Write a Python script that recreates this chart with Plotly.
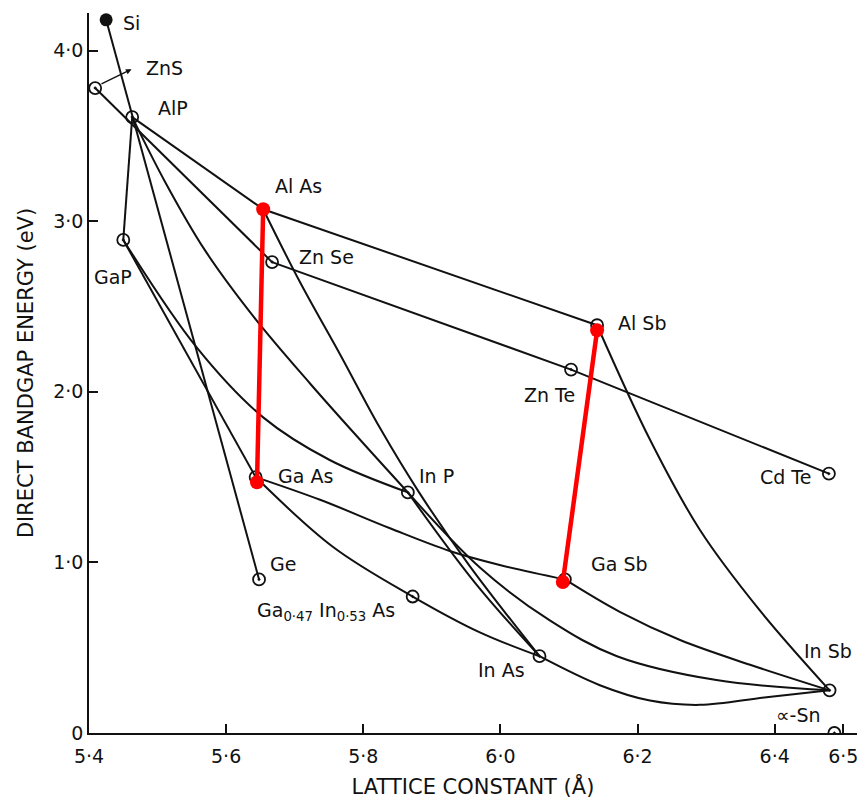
import plotly.graph_objects as go

# ---- binary compounds (lattice constant in Å, direct gap in eV) ----
names = ["Si", "ZnS", "AlP", "GaP", "ZnSe", "GaAs", "Ge", "GaInAs", "InP", "InAs",
         "GaSb", "AlSb", "ZnTe", "CdTe", "InSb", "aSn"]
lattice = [5.425, 5.409, 5.463, 5.450, 5.667, 5.643, 5.648, 5.872, 5.865, 6.057,
           6.094, 6.141, 6.103, 6.479, 6.480, 6.487]
gap = [4.18, 3.78, 3.61, 2.89, 2.76, 1.50, 0.90, 0.80, 1.41, 0.45,
       0.90, 2.39, 2.13, 1.52, 0.25, 0.0]

# ---- alloy lines / curves ----
SiGe_a = [5.425, 5.648]; SiGe_E = [4.18, 0.90]
ZnSZnSe_a = [5.409, 5.667]; ZnSZnSe_E = [3.78, 2.76]
AlPAlAs_a = [5.463, 5.654]; AlPAlAs_E = [3.61, 3.07]
AlAsAlSb_a = [5.654, 6.141]; AlAsAlSb_E = [3.07, 2.39]
AlPGaP_a = [5.463, 5.450]; AlPGaP_E = [3.61, 2.89]
GaPGaAs_a = [5.450, 5.643]; GaPGaAs_E = [2.89, 1.50]
ZnSeCdTe_a = [5.667, 6.103, 6.479]; ZnSeCdTe_E = [2.76, 2.13, 1.52]
GaPInP_a = [5.450, 5.557, 5.654, 5.751, 5.865]; GaPInP_E = [2.89, 2.26, 1.85, 1.60, 1.41]
AlPInP_a = [5.463, 5.511, 5.569, 5.642, 5.722, 5.795, 5.865]
AlPInP_E = [3.61, 3.23, 2.83, 2.43, 2.05, 1.72, 1.41]
AlAsInAs_a = [5.654, 5.708, 5.766, 5.824, 5.883, 5.955, 6.057]
AlAsInAs_E = [3.07, 2.64, 2.22, 1.79, 1.40, 0.98, 0.45]
InPInAs_a = [5.865, 5.963, 6.057]; InPInAs_E = [1.41, 0.88, 0.45]
GaAsInAs_a = [5.643, 5.756, 5.872, 5.970, 6.057]; GaAsInAs_E = [1.50, 1.09, 0.80, 0.59, 0.45]
GaAsGaSb_a = [5.643, 5.737, 5.839, 5.926, 5.999, 6.094]
GaAsGaSb_E = [1.50, 1.367, 1.20, 1.067, 0.985, 0.90]
GaSbInSb_a = [6.094, 6.174, 6.262, 6.364, 6.480]; GaSbInSb_E = [0.90, 0.71, 0.545, 0.40, 0.25]
InPInSb_a = [5.865, 5.970, 6.072, 6.170, 6.315, 6.480]; InPInSb_E = [1.41, 0.97, 0.66, 0.45, 0.31, 0.25]
InAsInSb_a = [6.057, 6.145, 6.218, 6.291, 6.388, 6.480]; InAsInSb_E = [0.45, 0.28, 0.19, 0.165, 0.21, 0.25]
AlSbInSb_a = [6.141, 6.218, 6.291, 6.378, 6.480]; AlSbInSb_E = [2.39, 1.72, 1.19, 0.72, 0.25]

# ---- highlighted (red) tie lines ----
AlAsGaAs_a = [5.654, 5.645]; AlAsGaAs_E = [3.07, 1.47]
AlSbGaSb_a = [6.141, 6.091]; AlSbGaSb_E = [2.36, 0.885]

# ---- tick labels ----
x_ticks = [5.4, 5.6, 5.8, 6.0, 6.2, 6.4, 6.5]
x_ticktext = ["5·4", "5·6", "5·8", "6·0", "6·2", "6·4", "6·5"]
y_ticks = [0, 1, 2, 3, 4]
y_ticktext = ["0", "1·0", "2·0", "3·0", "4·0"]

# ---- labels: text, x, y ----
label_text = ["AlP", "Al As", "Zn Se", "GaP", "Ga As", "In P", "Ge",
              "Ga<sub>0·47</sub> In<sub>0·53</sub> As", "In As", "Ga Sb", "Al Sb",
              "Zn Te", "Cd Te", "In Sb", "∝-Sn"]
label_a = [5.522, 5.705, 5.747, 5.435, 5.716, 5.907, 5.683, 5.745, 6.001, 6.174,
           6.206, 6.071, 6.416, 6.478, 6.434]
label_E = [3.666, 3.208, 2.792, 2.675, 1.507, 1.507, 0.991, 0.71, 0.37, 0.991,
           2.405, 1.982, 1.501, 0.481, 0.106]

FONT = "DejaVu Sans"
BLACK = "#111111"
RED = "#ff0000"
LBL = 19

fig = go.Figure()

curves = [
    (SiGe_a, SiGe_E, "linear"), (ZnSZnSe_a, ZnSZnSe_E, "linear"),
    (AlPAlAs_a, AlPAlAs_E, "linear"), (AlAsAlSb_a, AlAsAlSb_E, "linear"),
    (AlPGaP_a, AlPGaP_E, "linear"), (GaPGaAs_a, GaPGaAs_E, "linear"),
    (ZnSeCdTe_a, ZnSeCdTe_E, "linear"),
    (GaPInP_a, GaPInP_E, "spline"), (AlPInP_a, AlPInP_E, "spline"),
    (AlAsInAs_a, AlAsInAs_E, "spline"), (InPInAs_a, InPInAs_E, "spline"),
    (GaAsInAs_a, GaAsInAs_E, "spline"), (GaAsGaSb_a, GaAsGaSb_E, "spline"),
    (GaSbInSb_a, GaSbInSb_E, "spline"), (InPInSb_a, InPInSb_E, "spline"),
    (InAsInSb_a, InAsInSb_E, "spline"), (AlSbInSb_a, AlSbInSb_E, "spline"),
]
for xa, ye, shape in curves:
    fig.add_trace(go.Scatter(x=xa, y=ye, mode="lines",
                             line=dict(color=BLACK, width=2.0, shape=shape, smoothing=1.0),
                             hoverinfo="skip", showlegend=False))

# open markers for compounds (Si filled)
open_a = [a for n, a in zip(names, lattice) if n != "Si"]
open_E = [e for n, e in zip(names, gap) if n != "Si"]
fig.add_trace(go.Scatter(x=open_a, y=open_E, mode="markers",
                         marker=dict(symbol="circle-open-dot", size=12, color=BLACK,
                                     line=dict(width=1.8, color=BLACK)),
                         showlegend=False))
fig.add_trace(go.Scatter(x=[lattice[0]], y=[gap[0]], mode="markers",
                         marker=dict(symbol="circle", size=13, color=BLACK),
                         showlegend=False))

# red tie lines
for xa, ye in [(AlAsGaAs_a, AlAsGaAs_E), (AlSbGaSb_a, AlSbGaSb_E)]:
    fig.add_trace(go.Scatter(x=xa, y=ye, mode="lines+markers",
                             line=dict(color=RED, width=4.5),
                             marker=dict(symbol="circle", size=14, color=RED),
                             showlegend=False))

annotations = []
for t, a, e in zip(label_text, label_a, label_E):
    annotations.append(dict(x=a, y=e, xref="x", yref="y", text=t, showarrow=False,
                            font=dict(family=FONT, size=LBL, color=BLACK),
                            xanchor="center", yanchor="middle"))
annotations.append(dict(x=5.446, y=4.16, xref="x", yref="y", text="Si", showarrow=False,
                        font=dict(family=FONT, size=LBL, color=BLACK),
                        xanchor="left", yanchor="middle"))
annotations.append(dict(x=5.510, y=3.90, xref="x", yref="y", text="ZnS", showarrow=False,
                        font=dict(family=FONT, size=LBL, color=BLACK),
                        xanchor="center", yanchor="middle"))
# ZnS leader arrow
annotations.append(dict(x=5.462, y=3.89, ax=5.416, ay=3.80, xref="x", yref="y",
                        axref="x", ayref="y", text="", showarrow=True,
                        arrowhead=2, arrowsize=0.8, arrowwidth=1.4, arrowcolor=BLACK))

fig.update_layout(
    width=863, height=801, autosize=False,
    margin=dict(l=89, r=6, t=13, b=68),
    paper_bgcolor="white", plot_bgcolor="white",
    annotations=annotations,
    font=dict(family=FONT, color=BLACK),
    xaxis=dict(range=[5.4, 6.52], showgrid=False, zeroline=False,
               showline=True, linecolor=BLACK, linewidth=1.7,
               ticks="inside", ticklen=9, tickwidth=1.6, tickcolor=BLACK,
               tickvals=x_ticks, ticktext=x_ticktext, ticklabelstandoff=5,
               tickfont=dict(family=FONT, size=LBL, color=BLACK),
               title=dict(text="LATTICE CONSTANT (Å)", standoff=14,
                          font=dict(family=FONT, size=21, color=BLACK))),
    yaxis=dict(range=[0, 4.22], showgrid=False, zeroline=False,
               showline=True, linecolor=BLACK, linewidth=1.7,
               ticks="inside", ticklen=9, tickwidth=1.6, tickcolor=BLACK,
               tickvals=y_ticks, ticktext=y_ticktext,
               tickfont=dict(family=FONT, size=LBL, color=BLACK),
               title=dict(text="DIRECT BANDGAP ENERGY (eV)", standoff=14,
                          font=dict(family=FONT, size=21, color=BLACK))),
)

fig.write_html("out.html", config={"displayModeBar": False},
               post_script="document.body.style.margin='0px';")
